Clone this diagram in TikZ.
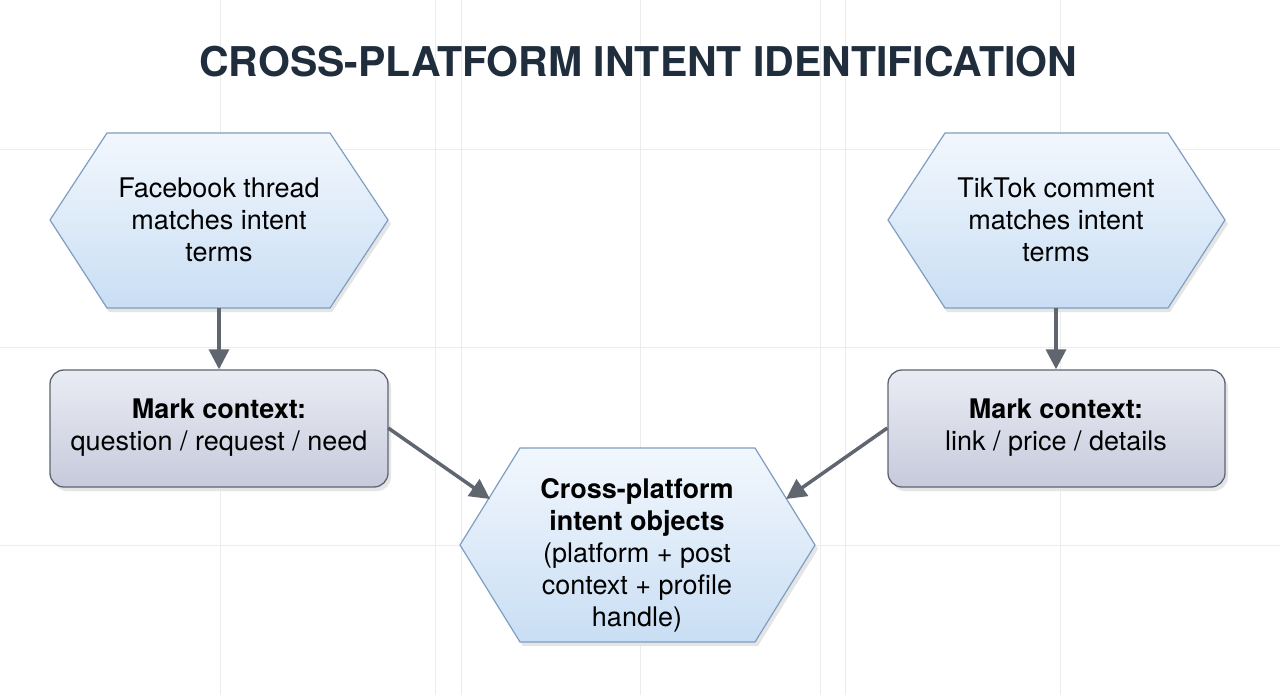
\documentclass[tikz,border=0pt]{standalone}
\usepackage{fontspec}
\setmainfont{TeX Gyre Heros}
\usetikzlibrary{arrows.meta}
\definecolor{hexb}{HTML}{7E9EC2}
\definecolor{hextop}{HTML}{F2F7FD}
\definecolor{hexbot}{HTML}{C9DEF4}
\definecolor{rectb}{HTML}{5E6472}
\definecolor{recttop}{HTML}{EAECF4}
\definecolor{rectbot}{HTML}{C7CADB}
\definecolor{arr}{HTML}{5F6670}
\definecolor{ttl}{HTML}{1F2D3D}
\definecolor{grid}{HTML}{ECECEC}
\begin{document}
\begin{tikzpicture}[x=1pt,y=-1pt,
  box/.style={draw=none,inner sep=0pt,align=center,font=\fontsize{27}{32}\selectfont},
  hex/.style={draw=hexb,line width=1.2pt,top color=hextop,bottom color=hexbot},
  rbox/.style={draw=rectb,line width=1.3pt,rounded corners=14pt,top color=recttop,bottom color=rectbot},
  conn/.style={draw=arr,line width=3.5pt,-{Triangle[length=20pt,width=20pt]}}]
\useasboundingbox (0,0) rectangle (1280,695);
\fill[white] (0,0) rectangle (1280,695);
\foreach \x in {220,435,461,640,820,845,1060} \draw[grid,line width=1pt] (\x,0) -- (\x,695);
\foreach \y in {150,347,545} \draw[grid,line width=1pt] (0,\y) -- (1280,\y);
\node[font=\fontsize{41}{45}\selectfont\bfseries,text=ttl] (title) at (638,62) {CROSS-PLATFORM INTENT IDENTIFICATION};
% hexagons
\fill[black!10] (109,137)--(332,137)--(391,224)--(332,312)--(109,312)--(53,224)--cycle;
\path[hex] (107,133)--(330,133)--(388,220)--(330,308)--(107,308)--(50,220)--cycle;
\node[box,minimum width=338pt,minimum height=175pt] (fb) at (219,220) {Facebook thread\\matches intent\\terms};
\fill[black!10] (947,137)--(1170,137)--(1228,224)--(1170,312)--(947,312)--(891,224)--cycle;
\path[hex] (945,133)--(1168,133)--(1225,220)--(1168,308)--(945,308)--(888,220)--cycle;
\node[box,minimum width=337pt,minimum height=175pt] (tt) at (1056,220) {TikTok comment\\matches intent\\terms};
\fill[black!10] (523,452)--(758,452)--(818,549)--(758,646)--(523,646)--(463,549)--cycle;
\path[hex] (520,448)--(755,448)--(815,545)--(755,642)--(520,642)--(460,545)--cycle;
\node[box,minimum width=355pt,minimum height=194pt] (out) at (637,555) {\textbf{Cross-platform}\\\textbf{intent objects}\\(platform + post\\context + profile\\handle)};
% rects
\fill[black!10,rounded corners=14pt] (53,374) rectangle (391,491);
\path[rbox] (50,370) rectangle (388,487);
\node[box,minimum width=338pt,minimum height=117pt] (m1) at (219,428) {\textbf{Mark context:}\\question / request / need};
\fill[black!10,rounded corners=14pt] (891,374) rectangle (1228,491);
\path[rbox] (888,370) rectangle (1225,487);
\node[box,minimum width=337pt,minimum height=117pt] (m2) at (1056,428) {\textbf{Mark context:}\\link / price / details};
\coordinate (inL) at (490,499);
\coordinate (inR) at (786,499);
\draw[conn] (fb.south) -- (m1.north);
\draw[conn] (tt.south) -- (m2.north);
\draw[conn] (m1.east) -- (inL);
\draw[conn] (m2.west) -- (inR);
\end{tikzpicture}
\end{document}
